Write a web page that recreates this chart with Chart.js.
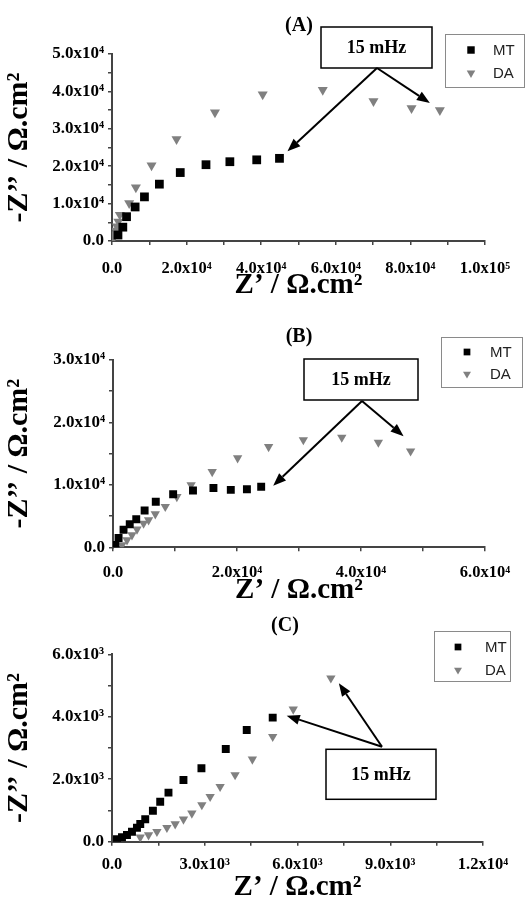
<!DOCTYPE html>
<html>
<head>
<meta charset="utf-8">
<script src="https://cdn.jsdelivr.net/npm/chart.js@4/dist/chart.umd.min.js"></script>
<style>
  html, body { margin: 0; padding: 0; background: #fff; }
  canvas { display: block; }
</style>
</head>
<body>
<canvas id="cA" width="526" height="300"></canvas>
<canvas id="cB" width="526" height="305"></canvas>
<canvas id="cC" width="526" height="297"></canvas>
<script>
// ---------------- DATA ----------------
const seriesNames = ['MT', 'DA'];

// Panel (A)
const aMT_x = [1600, 2900, 3900, 6200, 8700, 12700, 18300, 25200, 31600, 38800, 44900];
const aMT_y = [1600, 3700, 6500, 9100, 11800, 15200, 18300, 20400, 21200, 21700, 22100];
const aDA_x = [400, 700, 1000, 1300, 1700, 2100, 4600, 6400, 10600, 17300, 27600, 40400, 56500, 70100, 80300, 87900];
const aDA_y = [800, 1800, 2800, 3900, 5200, 7000, 10100, 14300, 20200, 27200, 34400, 39200, 40400, 37400, 35500, 35000];
const aXTickLabels = ['0.0', '', '2.0x10⁴', '', '4.0x10⁴', '', '6.0x10⁴', '', '8.0x10⁴', '', '1.0x10⁵'];
const aYTickLabels = ['0.0', '', '1.0x10⁴', '', '2.0x10⁴', '', '3.0x10⁴', '', '4.0x10⁴', '', '5.0x10⁴'];

// Panel (B)
const bMT_x = [370, 900, 1700, 2700, 3750, 5100, 6900, 9700, 12900, 16200, 19000, 21600, 23900];
const bMT_y = [370, 1500, 2800, 3700, 4500, 5900, 7300, 8500, 9100, 9500, 9200, 9300, 9700];
const bDA_x = [1450, 2260, 3060, 3870, 4930, 5740, 6820, 8430, 10300, 12600, 16000, 20100, 25100, 30700, 36900, 42800, 48000];
const bDA_y = [370, 1170, 1970, 2880, 3840, 4370, 5330, 6500, 8100, 10000, 12100, 14300, 16100, 17200, 17600, 16800, 15400];
const bXTickLabels = ['0.0', '', '2.0x10⁴', '', '4.0x10⁴', '', '6.0x10⁴'];
const bYTickLabels = ['0.0', '', '1.0x10⁴', '', '2.0x10⁴', '', '3.0x10⁴'];

// Panel (C)
const cMT_x = [161, 323, 484, 646, 807, 914, 1075, 1323, 1559, 1827, 2311, 2893, 3680, 4358, 5198];
const cMT_y = [77, 141, 215, 320, 448, 567, 717, 993, 1281, 1570, 1976, 2351, 2970, 3578, 3972];
const cDA_x = [914, 1182, 1453, 1776, 2044, 2312, 2583, 2906, 3174, 3497, 3981, 4540, 5198, 5862, 7079];
const cDA_y = [141, 215, 320, 448, 567, 717, 909, 1176, 1441, 1762, 2137, 2640, 3364, 4241, 5234];
const cXTickLabels = ['0.0', '', '3.0x10³', '', '6.0x10³', '', '9.0x10³', '', '1.2x10⁴'];
const cYTickLabels = ['0.0', '', '2.0x10³', '', '4.0x10³', '', '6.0x10³'];

const panelTitles = ['(A)', '(B)', '(C)'];
const noteText = '15 mHz';
const xTitle = 'Z’ / Ω.cm²';
const yTitle = '-Z’’ / Ω.cm²';

// ---------------- HELPERS ----------------
const SERIF = '"Liberation Serif", "Times New Roman", serif';
const SANS = '"Liberation Sans", Arial, sans-serif';
const AXIS_COLOR = '#444';
const MT_COLOR = '#000000';
const DA_COLOR = '#808080';

function pts(xs, ys) { return xs.map((x, i) => ({ x: x, y: ys[i] })); }

function drawArrow(ctx, x1, y1, x2, y2) {
  const ang = Math.atan2(y2 - y1, x2 - x1);
  const len = 13, half = 5;
  const bx = x2 - Math.cos(ang) * len, by = y2 - Math.sin(ang) * len;
  ctx.beginPath();
  ctx.moveTo(x1, y1);
  ctx.lineTo(bx, by);
  ctx.lineWidth = 2;
  ctx.strokeStyle = '#000';
  ctx.stroke();
  ctx.beginPath();
  ctx.moveTo(x2, y2);
  ctx.lineTo(bx + Math.sin(ang) * half, by - Math.cos(ang) * half);
  ctx.lineTo(bx - Math.sin(ang) * half, by + Math.cos(ang) * half);
  ctx.closePath();
  ctx.fillStyle = '#000';
  ctx.fill();
}

const overlay = {
  id: 'overlay',
  afterDraw(chart, args, o) {
    const ctx = chart.ctx;
    ctx.save();
    // panel title
    ctx.font = 'bold 20px ' + SERIF;
    ctx.fillStyle = '#000';
    ctx.textAlign = 'center';
    ctx.textBaseline = 'middle';
    ctx.fillText(o.title, o.titleX, o.titleY);

    // legend
    const L = o.legend;
    ctx.fillStyle = '#fff';
    ctx.fillRect(L.x, L.y, L.w, L.h);
    ctx.strokeStyle = '#8a8a8a';
    ctx.lineWidth = 1;
    ctx.strokeRect(L.x + 0.5, L.y + 0.5, L.w, L.h);
    chart.data.datasets.forEach((ds, i) => {
      const my = L.y + L.row0 + i * L.rowGap;
      ctx.fillStyle = ds.backgroundColor;
      Chart.helpers.drawPoint(ctx, {
        pointStyle: ds.pointStyle, radius: ds.pointRadius * 0.85,
        rotation: ds.pointRotation || 0, borderWidth: 0
      }, L.x + L.mx, my);
      ctx.fillStyle = '#222';
      ctx.font = '15px ' + SANS;
      ctx.textAlign = 'left';
      ctx.textBaseline = 'middle';
      ctx.fillText(ds.label, L.x + L.tx, my + 1);
    });

    // annotation box
    const B = o.box;
    ctx.fillStyle = '#fff';
    ctx.fillRect(B.x, B.y, B.w, B.h);
    ctx.strokeStyle = '#000';
    ctx.lineWidth = 1.5;
    ctx.strokeRect(B.x, B.y, B.w, B.h);
    ctx.fillStyle = '#000';
    ctx.font = 'bold 18px ' + SERIF;
    ctx.textAlign = 'center';
    ctx.textBaseline = 'middle';
    ctx.fillText(noteText, B.x + B.w / 2, B.y + B.h / 2 + 1);

    // arrows pointing at the last (15 mHz) point of each series
    o.arrows.forEach(a => {
      const meta = chart.getDatasetMeta(a.ds);
      const p = meta.data[meta.data.length - 1];
      drawArrow(ctx, o.from[0], o.from[1], p.x + a.dx, p.y + a.dy);
    });
    ctx.restore();
  }
};

function makeChart(id, cfg) {
  const datasets = [
    { label: seriesNames[0], data: pts(cfg.mtX, cfg.mtY), pointStyle: 'rect',
      pointRadius: cfg.rectR, backgroundColor: MT_COLOR, borderColor: MT_COLOR, borderWidth: 0, showLine: false },
    { label: seriesNames[1], data: pts(cfg.daX, cfg.daY), pointStyle: 'triangle', pointRotation: 180,
      pointRadius: cfg.triR, backgroundColor: DA_COLOR, borderColor: DA_COLOR, borderWidth: 0, showLine: false }
  ];
  const tickFont = { family: SERIF, size: 17, weight: 'bold' };
  return new Chart(document.getElementById(id), {
    type: 'scatter',
    data: { datasets: datasets },
    options: {
      responsive: false,
      animation: false,
      devicePixelRatio: 1,
      layout: { padding: { top: cfg.top, right: cfg.right, left: 0, bottom: 0 } },
      plugins: {
        legend: { display: false },
        tooltip: { enabled: false },
        overlay: cfg.overlay
      },
      scales: {
        x: {
          type: 'linear', min: 0, max: cfg.xMax,
          afterFit: s => { s.height = cfg.xH; },
          border: { color: AXIS_COLOR, width: 2 },
          grid: { drawOnChartArea: false, drawTicks: true, tickLength: 4, color: AXIS_COLOR, lineWidth: 1.5 },
          ticks: {
            stepSize: cfg.xStep, autoSkip: false, maxRotation: 0, padding: cfg.xPad,
            color: '#000', font: { family: SERIF, size: 16.5, weight: 'bold' },
            callback: (v, i) => cfg.xLabels[i]
          },
          title: { display: true, text: xTitle, color: '#000',
                   font: { family: SERIF, size: 29, weight: 'bold', lineHeight: 1 }, padding: { top: 0, bottom: 0 } }
        },
        y: {
          type: 'linear', min: 0, max: cfg.yMax,
          afterFit: s => { s.width = cfg.yW; },
          border: { color: AXIS_COLOR, width: 2 },
          grid: { drawOnChartArea: false, drawTicks: true, tickLength: 4, color: AXIS_COLOR, lineWidth: 1.5 },
          ticks: {
            stepSize: cfg.yStep, autoSkip: false, padding: 4,
            color: '#000', font: tickFont,
            callback: (v, i) => cfg.yLabels[i]
          },
          title: { display: true, text: yTitle, color: '#000',
                   font: { family: SERIF, size: 30, weight: 'bold', lineHeight: 1 }, padding: { top: 4, bottom: 0 } }
        }
      }
    },
    plugins: [overlay]
  });
}

// ---------------- CHARTS ----------------
makeChart('cA', {
  mtX: aMT_x, mtY: aMT_y, daX: aDA_x, daY: aDA_y,
  xLabels: aXTickLabels, yLabels: aYTickLabels,
  xMax: 100000, xStep: 10000, yMax: 50000, yStep: 5000,
  top: 54, right: 41, xH: 59, yW: 112, xPad: 14, rectR: 6.2, triR: 5.8,
  overlay: {
    title: panelTitles[0], titleX: 299, titleY: 26,
    legend: { x: 445, y: 34, w: 79, h: 53, mx: 26, tx: 48, row0: 16, rowGap: 23 },
    box: { x: 321, y: 27, w: 111, h: 41 },
    from: [377, 68],
    arrows: [{ ds: 0, dx: 8, dy: -7 }, { ds: 1, dx: -10, dy: -7 }]
  }
});

makeChart('cB', {
  mtX: bMT_x, mtY: bMT_y, daX: bDA_x, daY: bDA_y,
  xLabels: bXTickLabels, yLabels: bYTickLabels,
  xMax: 60000, xStep: 10000, yMax: 30000, yStep: 5000,
  top: 60, right: 41, xH: 57.7, yW: 113, xPad: 12, rectR: 5.6, triR: 5.4,
  overlay: {
    title: panelTitles[1], titleX: 299, titleY: 37,
    legend: { x: 441, y: 37, w: 81, h: 50, mx: 26, tx: 49, row0: 15, rowGap: 22 },
    box: { x: 304, y: 59, w: 114, h: 41 },
    from: [362, 101],
    arrows: [{ ds: 0, dx: 12, dy: -1 }, { ds: 1, dx: -7, dy: -15 }]
  }
});

makeChart('cC', {
  mtX: cMT_x, mtY: cMT_y, daX: cDA_x, daY: cDA_y,
  xLabels: cXTickLabels, yLabels: cYTickLabels,
  xMax: 12000, xStep: 1500, yMax: 6000, yStep: 1000,
  top: 49.3, right: 43, xH: 60.3, yW: 112, xPad: 9, rectR: 5.6, triR: 5.4,
  overlay: {
    title: panelTitles[2], titleX: 285, titleY: 21,
    legend: { x: 434, y: 26, w: 76, h: 50, mx: 24, tx: 51, row0: 16, rowGap: 23 },
    box: { x: 326, y: 144.3, w: 110, h: 50 },
    from: [382, 141.7],
    arrows: [{ ds: 0, dx: 14, dy: -2 }, { ds: 1, dx: 8, dy: 5 }]
  }
});
</script>
</body>
</html>
